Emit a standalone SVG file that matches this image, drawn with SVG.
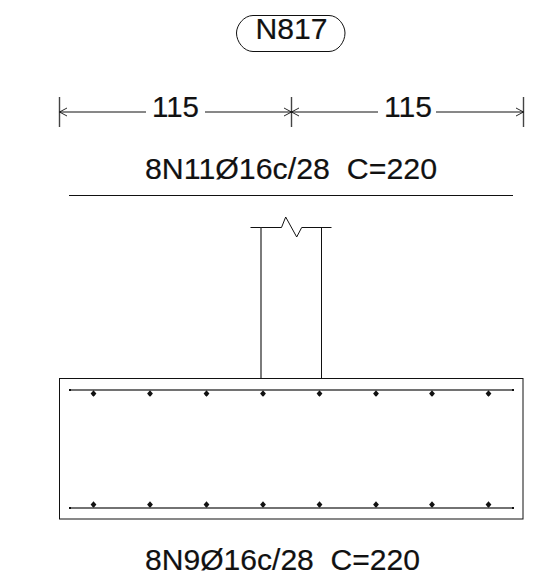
<svg xmlns="http://www.w3.org/2000/svg" width="545" height="583" viewBox="0 0 545 583">
<style>
text{font-family:"Liberation Sans",Arial,sans-serif;fill:#111;stroke:#111;stroke-width:.2;font-size:29px;white-space:pre}
.l{fill:none;stroke:#111;stroke-width:1}
.g{fill:none;stroke:#444;stroke-width:1.4}
.h{fill:none;stroke:#111;stroke-width:.9}
</style>
<defs>
<path id="d" d="M0-3.300 1.500-1.600 2.900 0 1.500 1.700 0 3.300-1.500 1.700-2.900 0-1.500-1.600Z" fill="#111"/>
</defs>
<rect width="545" height="583" fill="#fff"/>
<g id="tag">
<path class="l" d="M253 15.500H329C338 15.500 345 25 345 33C345 42 338 51.500 329 51.500H253C244 51.500 236.500 42 236.500 33C236.500 25 244 15.500 253 15.500Z"/>
<text x="255.500" y="38.500" textLength="72" lengthAdjust="spacingAndGlyphs">N817</text>
</g>
<g id="connectors">
<path class="g" d="M59.500 97V127M291.500 97V127M523.500 97V127"/>
<path class="l" d="M59.500 112H146M205 112H291.500M291.500 112H378M436 112H523.500"/>
<path class="h" d="M67 108 59.500 112 67 116M284 108 291.500 112 284 116M299 108 291.500 112 299 116M516 108 523.500 112 516 116"/>
</g>
<g id="dimension-left"><text x="152" y="117" textLength="47" lengthAdjust="spacingAndGlyphs">115</text></g>
<g id="dimension-right"><text x="384" y="117" textLength="48" lengthAdjust="spacingAndGlyphs">115</text></g>
<g id="top-label"><text x="145" y="178.500" textLength="292" lengthAdjust="spacingAndGlyphs" xml:space="preserve">8N11Ø16c/28  C=220</text></g>
<path class="l" d="M69 195.500H513"/>
<g id="column">
<path class="l" d="M250.500 227.500H281.500L285.700 217 296.700 237 301.700 227.500H331.500"/>
<path class="g" d="M261 227.500V378"/>
<path class="l" d="M321.500 227.500V378"/>
</g>
<g id="footing">
<rect class="l" x="59.500" y="378.500" width="463.500" height="140.500"/>
<path class="g" d="M69 390H514M69 508H514"/>
<path d="M69 389H71V391H69ZM512 389H514V391H512ZM69 507H71V509H69ZM512 507H514V509H512Z" fill="#111"/>
<g id="bars-top">
<use href="#d" x="93.500" y="393.500"/><use href="#d" x="150" y="393.500"/><use href="#d" x="206.500" y="393.500"/><use href="#d" x="263" y="393.500"/><use href="#d" x="319.500" y="393.500"/><use href="#d" x="376" y="393.500"/><use href="#d" x="432" y="393.500"/><use href="#d" x="488.500" y="393.500"/>
</g>
<g id="bars-bottom">
<use href="#d" x="93.500" y="504.500"/><use href="#d" x="150" y="504.500"/><use href="#d" x="206.500" y="504.500"/><use href="#d" x="263" y="504.500"/><use href="#d" x="319.500" y="504.500"/><use href="#d" x="376" y="504.500"/><use href="#d" x="432" y="504.500"/><use href="#d" x="488.500" y="504.500"/>
</g>
</g>
<g id="bottom-label"><text x="145" y="569.500" textLength="275" lengthAdjust="spacingAndGlyphs" xml:space="preserve">8N9Ø16c/28  C=220</text></g>
</svg>
